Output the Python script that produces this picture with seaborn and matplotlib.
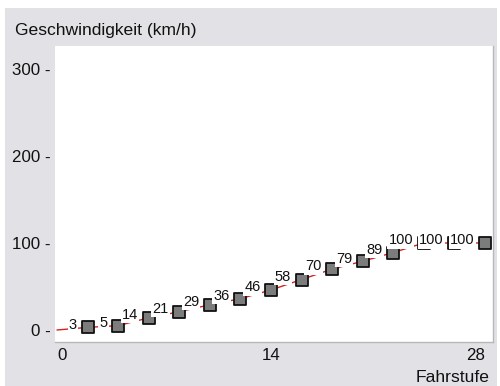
import matplotlib
matplotlib.use("Agg")
import matplotlib.pyplot as plt
from matplotlib.patches import Rectangle
import pandas as pd
import seaborn as sns

# Speed table: speed step (Fahrstufe) -> speed in km/h
steps = [0, 2, 4, 6, 8, 10, 12, 14, 16, 18, 20, 22, 24, 26, 28]
speeds = [0, 3, 5, 14, 21, 29, 36, 46, 58, 70, 79, 89, 100, 100, 100]
y_ticks = [0, 100, 200, 300]
x_ticks = [0, 14, 28]

df = pd.DataFrame({"Fahrstufe": steps, "kmh": speeds})
pts = df[df["Fahrstufe"] > 0]

sns.set_theme(style="white")
plt.rcParams["font.family"] = ["Liberation Sans", "DejaVu Sans"]

W, H = 500, 386
fig = plt.figure(figsize=(W / 100, H / 100), dpi=100)
fig.patch.set_facecolor("white")
# grey panel behind the chart
fig.patches.append(Rectangle((5 / W, 0), (497 - 5) / W, 1 - 8 / H,
                             transform=fig.transFigure, facecolor="#e2e2e6",
                             edgecolor="none", zorder=-5))

ax = fig.add_axes([55 / W, 1 - 342 / H, (493 - 55) / W, (342 - 46) / H])
ax.set_zorder(2)
ax.set_facecolor("white")

sns.lineplot(data=df, x="Fahrstufe", y="kmh", ax=ax, color="#d82020",
             linewidth=1.0, zorder=2)
sns.scatterplot(data=pts, x="Fahrstufe", y="kmh", ax=ax, marker="s", s=72,
                color="#7c7c7c", edgecolor="#111111", linewidth=1.3, zorder=3)

for xv, yv in zip(pts["Fahrstufe"], pts["kmh"]):
    ax.annotate(f"{yv}", (xv, yv), xytext=(-7.6, -1.0), textcoords="offset points",
                ha="right", va="baseline", fontsize=10.5, color="#111111",
                bbox=dict(boxstyle="square,pad=0.08", fc="white", ec="none"),
                zorder=4)

ax.set_xlim(-0.13, 28.53)
ax.set_ylim(-13.8, 326.4)
ax.set_xticks(x_ticks)
ax.set_xticklabels([str(v) for v in x_ticks])
ax.set_yticks(y_ticks)
ax.set_yticklabels([f"{v} -" for v in y_ticks])
ax.tick_params(axis="both", length=0, labelsize=12.2, colors="#111111")
ax.tick_params(axis="y", pad=3)
ax.tick_params(axis="x", pad=4)
xl = ax.get_xticklabels()
xl[0].set_ha("left")
xl[-1].set_ha("right")
ax.set_xlabel("")
ax.set_ylabel("")

for side in ["top", "left"]:
    ax.spines[side].set_visible(False)
for side in ["bottom", "right"]:
    ax.spines[side].set_color("#b8b8b8")
    ax.spines[side].set_linewidth(1.0)

fig.text(15 / W, 1 - 30 / H, "Geschwindigkeit (km/h)", ha="left", va="center",
         fontsize=12.6, color="#111111")
fig.text(490 / W, 1 - 378 / H, "Fahrstufe", ha="right", va="center",
         fontsize=12.6, color="#111111")

fig.savefig("out.png", dpi=100, facecolor=fig.get_facecolor())
